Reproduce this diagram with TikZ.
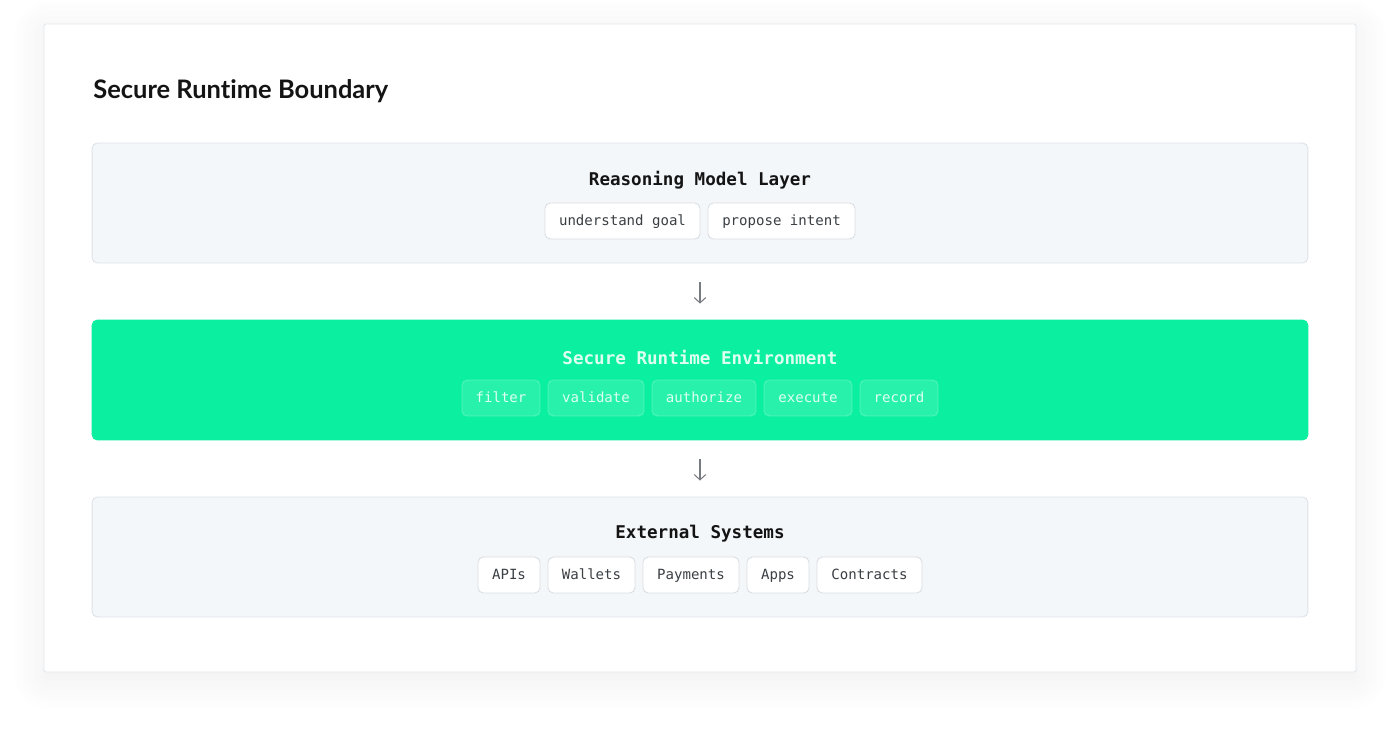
\documentclass[tikz,border=0pt]{standalone}
\usepackage{fontspec}
\setmainfont{Lato}[Ligatures={NoCommon}]
\setmonofont{DejaVu Sans Mono}
\usetikzlibrary{positioning,arrows.meta,shadows.blur}
\definecolor{runtimeGreen}{RGB}{10, 240, 160}
\definecolor{layerFill}{RGB}{244, 247, 250}
\definecolor{layerLine}{RGB}{220, 226, 231}
\definecolor{chipLine}{RGB}{217, 222, 227}
\definecolor{chipText}{RGB}{58, 63, 68}
\definecolor{cardLine}{RGB}{226, 230, 234}
\definecolor{arrowGray}{RGB}{120, 124, 128}
\definecolor{paleText}{RGB}{222, 255, 240}

\tikzset{
  layerbox/.style={draw=layerLine, fill=layerFill, rounded corners=3pt, line width=0.5pt, minimum width=24.32cm, minimum height=2.4cm},
  layertitle/.style={font=\ttfamily\bfseries\fontsize{10}{12}\selectfont, text=black!92},
  chipbox/.style={draw=chipLine, fill=white, rounded corners=3pt, line width=0.5pt, minimum height=0.72cm, inner sep=0pt, text height=1.55ex, text depth=0.45ex, font=\ttfamily\fontsize{8}{10}\selectfont, text=chipText},
  greenchip/.style={chipbox, draw=white, draw opacity=0.25, fill=white, fill opacity=0.12, text opacity=1, text=paleText},
  flowarrow/.style={draw=arrowGray, line width=0.6pt, -{Straight Barb[length=3pt, width=6.5pt]}, shorten <=0.38cm, shorten >=0.32cm}
}

\begin{document}
\begin{tikzpicture}[x=0.02cm, y=-0.02cm]
\useasboundingbox (0,0) rectangle (1400,736);
% card with soft shadow
\path[fill=white, draw=cardLine, line width=0.5pt, rounded corners=1pt, blur shadow={shadow xshift=0pt, shadow yshift=-4pt, shadow opacity=7, shadow blur radius=18pt, shadow blur steps=14}] (44,24) rectangle (1356,672);
\node[anchor=base west, inner sep=0pt, font=\bfseries\fontsize{14.5}{17}\selectfont, text=black!92] (title) at (93,99) {Secure Runtime Boundary};

% layers
\node[layerbox] (reasoning) at (700,203) {};
\node[layerbox, draw=runtimeGreen, fill=runtimeGreen] (runtime) at (700,380) {};
\node[layerbox] (external) at (700,557) {};

\node[layertitle] (reasoningTitle) at (700,180) {Reasoning Model Layer};
\node[layertitle, text=paleText] (runtimeTitle) at (700,357) {Secure Runtime Environment};
\node[layertitle] (externalTitle) at (700,534) {External Systems};

% reasoning chips
\node[chipbox, minimum width=3.1cm] (goal) at (622.5,221) {understand goal};
\node[chipbox, minimum width=2.94cm] (intent) at (781.5,221) {propose intent};

% runtime chips
\node[greenchip, minimum width=1.56cm] (filter) at (501,398) {filter};
\node[greenchip, minimum width=1.92cm] (validate) at (596,398) {validate};
\node[greenchip, minimum width=2.08cm] (authorize) at (704,398) {authorize};
\node[greenchip, minimum width=1.76cm] (execute) at (808,398) {execute};
\node[greenchip, minimum width=1.56cm] (record) at (899,398) {record};

% external chips
\node[chipbox, minimum width=1.24cm] (apis) at (509,575) {APIs};
\node[chipbox, minimum width=1.74cm] (wallets) at (591.5,575) {Wallets};
\node[chipbox, minimum width=1.92cm] (payments) at (691,575) {Payments};
\node[chipbox, minimum width=1.24cm] (apps) at (778,575) {Apps};
\node[chipbox, minimum width=2.1cm] (contracts) at (869.5,575) {Contracts};

% flow
\draw[flowarrow] (reasoning.south) -- (runtime.north);
\draw[flowarrow] (runtime.south) -- (external.north);
\end{tikzpicture}
\end{document}
